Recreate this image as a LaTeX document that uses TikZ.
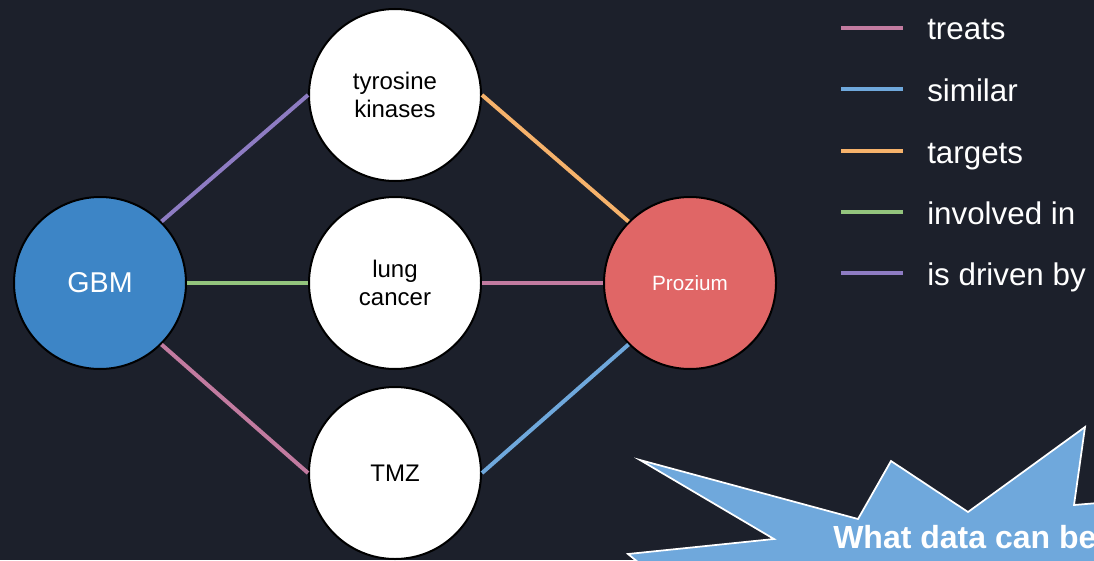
\documentclass[tikz,border=0pt]{standalone}
\usepackage{fontspec}
\setmainfont{Liberation Sans}
\usetikzlibrary{positioning}
\definecolor{Night}{HTML}{1C202B}
\definecolor{Treats}{HTML}{C27BA0}
\definecolor{Similar}{HTML}{6FA8DC}
\definecolor{Targets}{HTML}{F6B26B}
\definecolor{Involved}{HTML}{93C47D}
\definecolor{Driven}{HTML}{8E7CC3}
\definecolor{Disease}{HTML}{3D85C6}
\definecolor{Drug}{HTML}{E06666}
\tikzset{entity/.style={circle,draw=black,line width=1.5pt,fill=white,
    minimum size=129pt,inner sep=0pt,align=center,text=black,
    font=\fontsize{18}{21}\selectfont},
  rel/.style={line width=3pt},
  keyline/.style={line width=3pt},
  keytext/.style={text=white,inner sep=0pt,yshift=-9pt,
    font=\fontsize{23.5}{26}\selectfont}}

\begin{document}
\begin{tikzpicture}[x=0.75pt,y=-0.75pt]
    \fill[Night] (0,0) rectangle (1094,560);
    \useasboundingbox (0,0) rectangle (1094,560);
    \clip (0,0) rectangle (1094,560);
    % graph
    \node[entity,fill=Disease,text=white,font=\fontsize{21.5}{24}\selectfont] (gbm) at (100,283) {GBM};
    \node[entity] (tk) at (395,95) {tyrosine\\kinases};
    \node[entity] (lc) at (395,283) {lung\\cancer};
    \node[entity] (tmz) at (395,473) {TMZ};
    \node[entity,fill=Drug,text=white,font=\fontsize{15.5}{18}\selectfont] (prz) at (690,283) {Prozium};
    \draw[rel,Driven] (gbm.north east)--(tk.west);
    \draw[rel,Involved] (gbm.east)--(lc.west);
    \draw[rel,Treats] (gbm.south east)--(tmz.west);
    \draw[rel,Targets] (tk.east)--(prz.north west);
    \draw[rel,Treats] (lc.east)--(prz.west);
    \draw[rel,Similar] (tmz.east)--(prz.south west);
    % legend
    \coordinate (k1a) at (841,28);  \coordinate (k1b) at (903,28);
    \coordinate (k2a) at (841,89);  \coordinate (k2b) at (903,89);
    \coordinate (k3a) at (841,151); \coordinate (k3b) at (903,151);
    \coordinate (k4a) at (841,212); \coordinate (k4b) at (903,212);
    \coordinate (k5a) at (841,273); \coordinate (k5b) at (903,273);
    \draw[keyline,Treats] (k1a)--(k1b);
    \draw[keyline,Similar] (k2a)--(k2b);
    \draw[keyline,Targets] (k3a)--(k3b);
    \draw[keyline,Involved] (k4a)--(k4b);
    \draw[keyline,Driven] (k5a)--(k5b);
    \node[keytext,base right=18pt of k1b] (t1) {treats};
    \node[keytext,base right=18pt of k2b] (t2) {similar};
    \node[keytext,base right=18pt of k3b] (t3) {targets};
    \node[keytext,base right=18pt of k4b] (t4) {involved in};
    \node[keytext,base right=18pt of k5b] (t5) {is driven by};
    % callout
    \draw[fill=Similar,draw=white,line width=1.3pt,line join=miter]
      (628,554)--(774,539)--(640,460)--(858,519)--(891,461)--(968,512)
      --(1085,427)--(1074,505)--(1110,502)--(1110,620)--(660,580)--cycle;
    \node[anchor=base west,inner sep=0pt,text=white,
      font=\bfseries\fontsize{24}{28}\selectfont] (ask) at (833,548) {What data can be};
  \end{tikzpicture}
\end{document}
